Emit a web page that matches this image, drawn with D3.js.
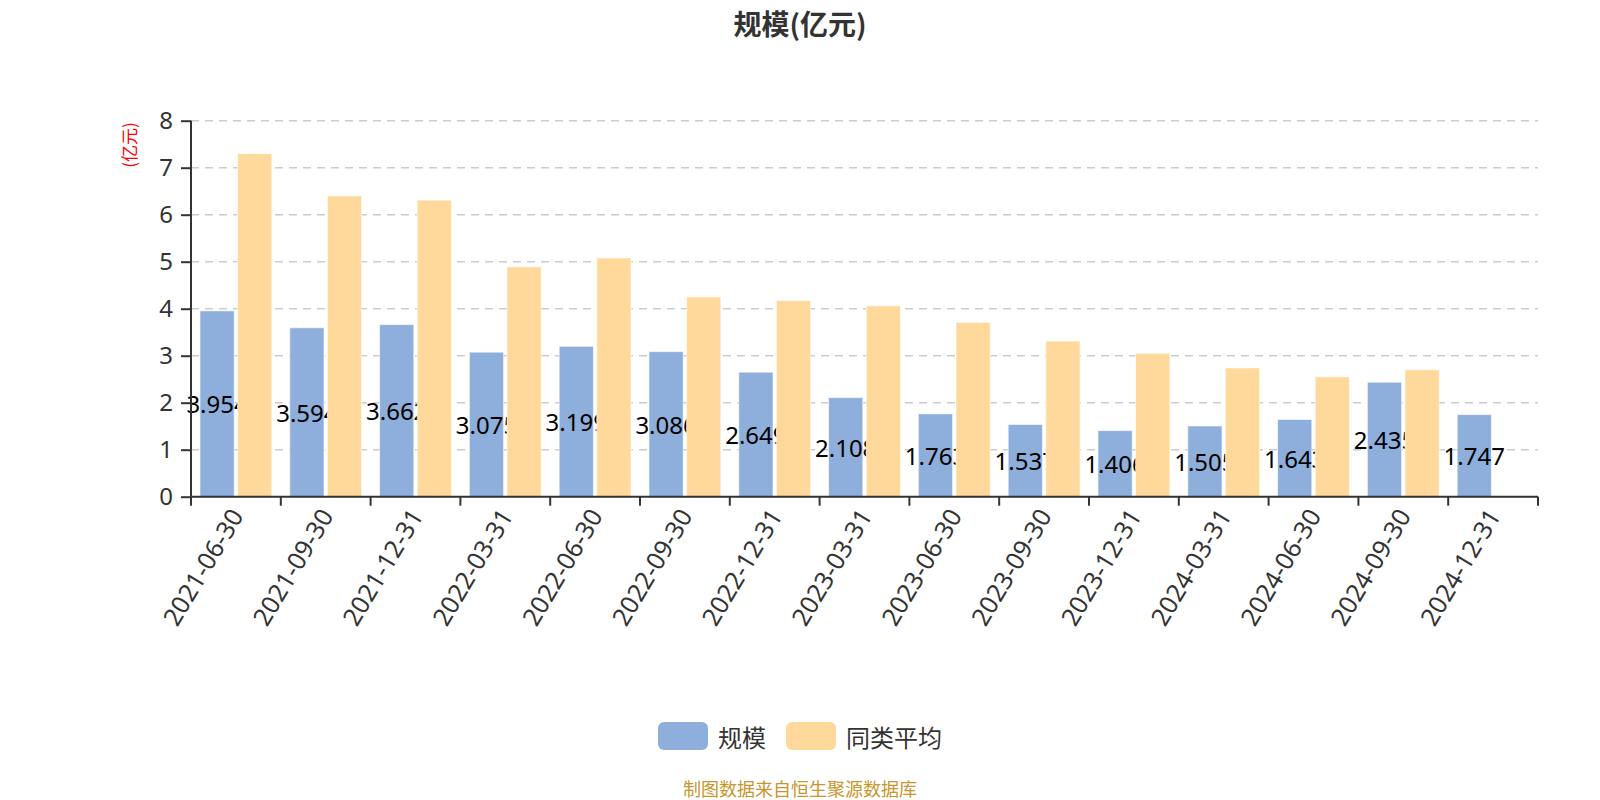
<!DOCTYPE html>
<html>
<head>
<meta charset="utf-8">
<script src="https://cdn.jsdelivr.net/npm/d3@7"></script>
<style>
  html, body { margin: 0; padding: 0; background: #fff; }
  svg text { font-family: "Noto Sans", "Noto Sans CJK SC", sans-serif; }
</style>
</head>
<body>
<div id="chart"></div>
<script>
// Data
const dates = ["2021-06-30", "2021-09-30", "2021-12-31", "2022-03-31", "2022-06-30",
    "2022-09-30", "2022-12-31", "2023-03-31", "2023-06-30", "2023-09-30",
    "2023-12-31", "2024-03-31", "2024-06-30", "2024-09-30", "2024-12-31"];
const scale = [3.954, 3.594, 3.662, 3.075, 3.199, 3.086, 2.649, 2.108, 1.763, 1.537,
    1.406, 1.505, 1.643, 2.435, 1.747];
const peerAvg = [7.30, 6.40, 6.31, 4.89, 5.08, 4.25, 4.17, 4.06, 3.71, 3.31,
    3.05, 2.74, 2.55, 2.70, null];
const yTicks = [0, 1, 2, 3, 4, 5, 6, 7, 8];
const seriesNames = ["规模", "同类平均"];

// Layout
const w = 1600;
const h = 800;
const p = { left: 191, right: 1538, top: 120.7, bottom: 496.7 };
const colors = ["#8eaedb", "#ffd99b"];

const svg = d3.select("#chart")
    .append("svg")
    .attr("width", w)
    .attr("height", h);

// Scales
const xScale = d3.scaleBand()
    .domain(dates)
    .range([p.left, p.right])
    .paddingInner(0)
    .paddingOuter(0);
const yScale = d3.scaleLinear()
    .domain([0, 8])
    .range([p.bottom, p.top]);

const band = xScale.bandwidth();
const catGap = band * 0.2;
const barW = (band - catGap) / 2.1;
const barGap = barW * 0.1;

// Title
svg.append("text")
    .attr("x", 800)
    .attr("y", 23)
    .attr("text-anchor", "middle")
    .attr("dominant-baseline", "central")
    .style("font-family", "'Noto Sans CJK SC', sans-serif")
    .style("font-size", "28px")
    .style("font-weight", "bold")
    .style("fill", "#333")
    .text("规模(亿元)");

// Y axis name
svg.append("text")
    .attr("transform", "translate(128," + 145 + ") rotate(-90)")
    .attr("text-anchor", "middle")
    .attr("dominant-baseline", "central")
    .style("font-family", "'Noto Sans CJK SC', sans-serif")
    .style("font-size", "17px")
    .style("fill", "#ff0000")
    .text("(亿元)");

// Grid lines
svg.append("g")
    .selectAll("line")
    .data(yTicks.filter(d => d > 0))
    .enter()
    .append("line")
    .attr("x1", p.left)
    .attr("x2", p.right)
    .attr("y1", d => yScale(d))
    .attr("y2", d => yScale(d))
    .style("stroke", "#cccccc")
    .style("stroke-width", 1.5)
    .style("stroke-dasharray", "8,6");

// Blue bars
svg.append("g")
    .selectAll("rect")
    .data(scale)
    .enter()
    .append("rect")
    .attr("x", (d, i) => xScale(dates[i]) + catGap / 2)
    .attr("y", d => yScale(d))
    .attr("width", barW)
    .attr("height", d => yScale(0) - yScale(d))
    .style("fill", colors[0])
    .style("stroke", "rgba(255,255,255,0.6)")
    .style("stroke-width", 1);

// Labels of blue bars (covered by the orange bars)
svg.append("g")
    .selectAll("text")
    .data(scale)
    .enter()
    .append("text")
    .attr("x", (d, i) => xScale(dates[i]) + catGap / 2 + barW / 2)
    .attr("y", d => (yScale(d) + yScale(0)) / 2)
    .attr("text-anchor", "middle")
    .attr("dominant-baseline", "central")
    .style("font-size", "24px")
    .style("fill", "#000")
    .text(d => d.toFixed(3));

// Orange bars
svg.append("g")
    .selectAll("rect")
    .data(peerAvg.map((v, i) => ({ v, date: dates[i] })).filter(d => d.v != null))
    .enter()
    .append("rect")
    .attr("x", d => xScale(d.date) + catGap / 2 + barW + barGap)
    .attr("y", d => yScale(d.v))
    .attr("width", barW)
    .attr("height", d => yScale(0) - yScale(d.v))
    .style("fill", colors[1])
    .style("stroke", "rgba(255,255,255,0.6)")
    .style("stroke-width", 1);

// Axes
const yAxis = d3.axisLeft(yScale).tickValues(yTicks).tickSize(10).tickPadding(8);
const gy = svg.append("g")
    .attr("transform", "translate(" + p.left + ",0)")
    .call(yAxis);
gy.select(".domain").remove();
gy.append("line")
    .attr("x1", 0).attr("x2", 0)
    .attr("y1", p.top).attr("y2", p.bottom)
    .style("stroke", "#333").style("stroke-width", 2);
gy.selectAll(".tick line").style("stroke", "#333").style("stroke-width", 2);
gy.selectAll(".tick text")
    .style("font-size", "24px")
    .style("fill", "#333");

const xAxis = d3.axisBottom(xScale).tickSize(0).tickPadding(0);
const gx = svg.append("g")
    .attr("transform", "translate(0," + p.bottom + ")")
    .call(xAxis);
gx.select(".domain").remove();
gx.append("line")
    .attr("x1", p.left).attr("x2", p.right)
    .attr("y1", 0).attr("y2", 0)
    .style("stroke", "#333").style("stroke-width", 2);
gx.selectAll(".bound")
    .data(dates.concat(["end"]))
    .enter()
    .append("line")
    .attr("class", "bound")
    .attr("x1", (d, i) => p.left + i * band)
    .attr("x2", (d, i) => p.left + i * band)
    .attr("y1", 0).attr("y2", 9)
    .style("stroke", "#333").style("stroke-width", 2);
gx.selectAll(".tick text")
    .attr("transform", "translate(0,14) rotate(-59)")
    .attr("x", 0)
    .attr("y", 0)
    .attr("dy", null)
    .attr("text-anchor", "end")
    .attr("dominant-baseline", "central")
    .style("font-size", "25px")
    .style("fill", "#333");

// Legend
const legend = svg.append("g");
const legendX = [658, 786];
seriesNames.forEach((name, i) => {
    legend.append("rect")
        .attr("x", legendX[i])
        .attr("y", 722)
        .attr("width", 50)
        .attr("height", 28)
        .attr("rx", 6)
        .style("fill", colors[i]);
    legend.append("text")
        .attr("x", legendX[i] + 60)
        .attr("y", 736)
        .attr("dominant-baseline", "central")
        .style("font-family", "'Noto Sans CJK SC', sans-serif")
        .style("font-size", "24px")
        .style("fill", "#333")
        .text(name);
});

// Source note
svg.append("text")
    .attr("x", 800)
    .attr("y", 788)
    .attr("text-anchor", "middle")
    .attr("dominant-baseline", "central")
    .style("font-family", "'Noto Sans CJK SC', sans-serif")
    .style("font-size", "18px")
    .style("fill", "#c7962d")
    .text("制图数据来自恒生聚源数据库");
</script>
</body>
</html>
